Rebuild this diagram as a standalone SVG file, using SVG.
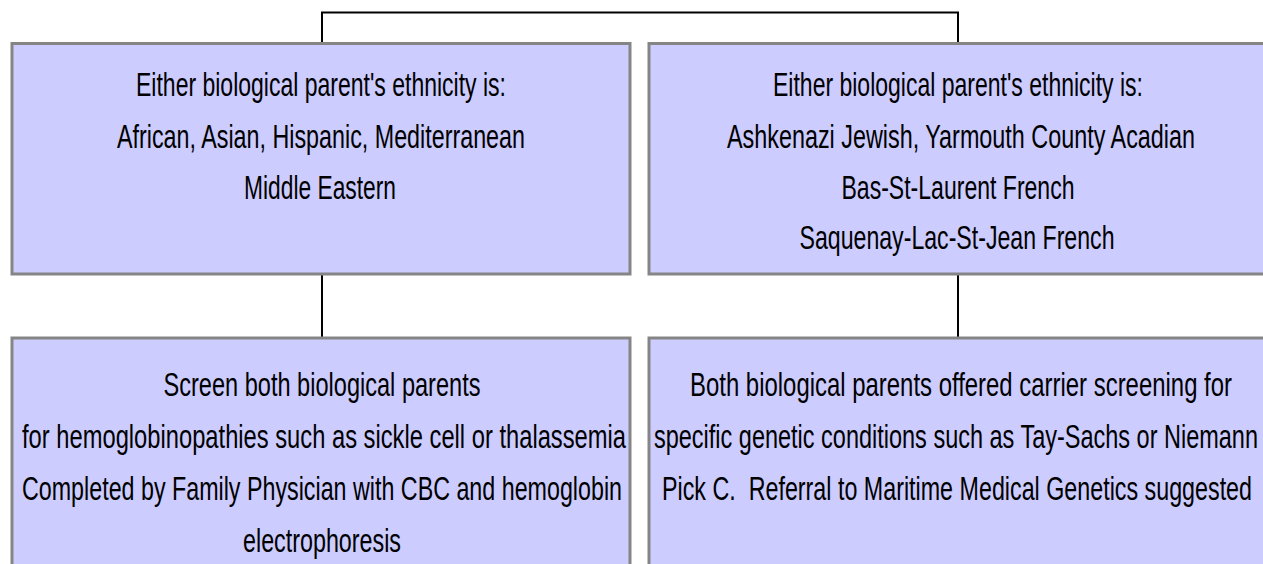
<svg xmlns="http://www.w3.org/2000/svg" width="1263" height="564" viewBox="0 0 1263 564">
<style>
.box{fill:#ccccff;stroke:#858585;stroke-width:3}
.t{font-family:"Liberation Sans",Arial,sans-serif;font-size:33px;fill:#000;text-anchor:middle}
.c{fill:none;stroke:#000;stroke-width:2}
</style>
<rect width="1263" height="564" fill="#fff"/>
<g id="connectors">
<path class="c" d="M322,42 V12.5 H958 V42"/>
<path class="c" d="M322,274 V338"/>
<path class="c" d="M958,274 V338"/>
</g>
<g id="n1">
<rect class="box" x="12" y="43.5" width="618" height="230.5"/>
<text class="t" x="321" y="96" textLength="370" lengthAdjust="spacingAndGlyphs">Either biological parent's ethnicity is:</text>
<text class="t" x="321" y="148" textLength="408" lengthAdjust="spacingAndGlyphs">African, Asian, Hispanic, Mediterranean</text>
<text class="t" x="320" y="199" textLength="152" lengthAdjust="spacingAndGlyphs">Middle Eastern</text>
</g>
<g id="n2">
<rect class="box" x="649" y="43.5" width="630" height="230.5"/>
<text class="t" x="958" y="96" textLength="370" lengthAdjust="spacingAndGlyphs">Either biological parent's ethnicity is:</text>
<text class="t" x="961" y="148" textLength="468" lengthAdjust="spacingAndGlyphs">Ashkenazi Jewish, Yarmouth County Acadian</text>
<text class="t" x="958" y="199" textLength="233" lengthAdjust="spacingAndGlyphs">Bas-St-Laurent French</text>
<text class="t" x="957" y="249" textLength="315" lengthAdjust="spacingAndGlyphs">Saquenay-Lac-St-Jean French</text>
</g>
<g id="n3">
<rect class="box" x="12" y="338" width="618" height="240"/>
<text class="t" x="322" y="396" textLength="317" lengthAdjust="spacingAndGlyphs">Screen both biological parents</text>
<text class="t" x="324" y="448" textLength="604" lengthAdjust="spacingAndGlyphs">for hemoglobinopathies such as sickle cell or thalassemia</text>
<text class="t" x="322" y="500" textLength="600" lengthAdjust="spacingAndGlyphs">Completed by Family Physician with CBC and hemoglobin</text>
<text class="t" x="322" y="552" textLength="158" lengthAdjust="spacingAndGlyphs">electrophoresis</text>
</g>
<g id="n4">
<rect class="box" x="649" y="338" width="630" height="240"/>
<text class="t" x="961" y="396" textLength="542" lengthAdjust="spacingAndGlyphs">Both biological parents offered carrier screening for</text>
<text class="t" x="956" y="448" textLength="604" lengthAdjust="spacingAndGlyphs">specific genetic conditions such as Tay-Sachs or Niemann</text>
<text class="t" x="957" y="500" textLength="590" lengthAdjust="spacingAndGlyphs" xml:space="preserve">Pick C.  Referral to Maritime Medical Genetics suggested</text>
</g>
</svg>
